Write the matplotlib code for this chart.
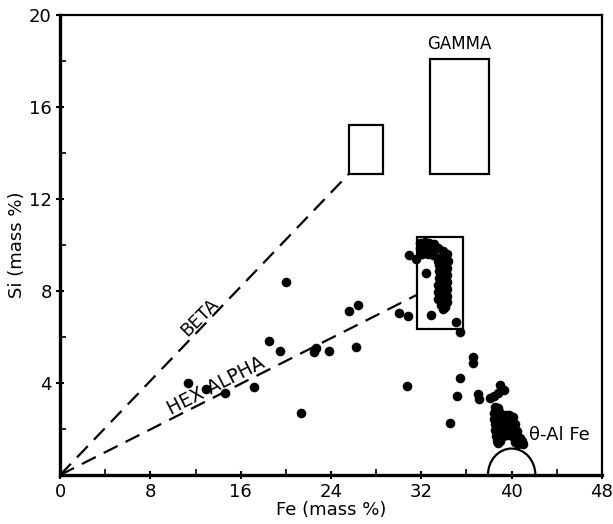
import numpy as np
import matplotlib
matplotlib.use('Agg')
import matplotlib.pyplot as plt
from matplotlib.patches import Rectangle, Arc
from matplotlib.ticker import MultipleLocator

plt.rcParams['font.family'] = ['DejaVu Sans']

# Отдельные точки (Fe, Si)
fe_pts = [11.3, 12.9, 14.6, 17.2, 18.5, 19.5, 20.0, 21.3, 22.5, 22.7, 23.8,
          25.6, 26.4, 26.2, 30.05, 30.8, 30.7, 30.9, 31.5, 32.4, 32.9, 35.1,
          35.4, 36.55, 36.55, 35.4, 35.2, 37.0, 37.1, 39.0, 39.3, 38.8, 38.4,
          38.1, 34.5]
si_pts = [3.99, 3.74, 3.55, 3.81, 5.84, 5.41, 8.40, 2.68, 5.33, 5.50, 5.41,
          7.14, 7.39, 5.55, 7.06, 6.91, 3.87, 9.58, 9.38, 8.77, 6.96, 6.67,
          6.23, 5.12, 4.86, 4.20, 3.43, 3.52, 3.29, 3.91, 3.70, 3.55, 3.43,
          3.33, 2.25]

# Скопление в области HEX ALPHA
fe_alpha = [31.9, 32.3, 32.7, 33.1, 31.9, 32.3, 32.7, 33.1, 32.1, 32.6, 33.0,
            33.5, 33.9, 34.3, 33.6, 34.0, 34.4, 33.5,
            33.6, 34.0, 34.3, 33.6, 34.0, 34.3, 33.6, 34.0, 34.3,
            33.5, 33.9, 34.3, 33.5, 33.9, 34.3, 33.5, 33.9, 34.3,
            33.7, 34.1, 33.9]
si_alpha = [10.1, 10.15, 10.1, 10.05, 9.85, 9.8, 9.8, 9.8, 9.6, 9.6, 9.55,
            9.85, 9.75, 9.6, 9.45, 9.4, 9.3, 9.3,
            9.15, 9.1, 9.0, 8.85, 8.8, 8.7, 8.55, 8.5, 8.4,
            8.25, 8.2, 8.1, 7.95, 7.9, 7.8, 7.65, 7.6, 7.5,
            7.4, 7.3, 7.2]

# Скопление около theta-AlFe
fe_theta = [38.5, 38.8, 38.4, 38.7, 39.0, 38.4, 38.7, 39.0, 38.5, 38.8,
            39.1, 38.5, 38.8, 39.1, 38.6, 38.9, 39.2, 38.7, 39.0, 38.8,
            39.5, 39.8, 40.1, 39.4, 39.7, 40.0, 40.3, 39.5, 39.8, 40.2,
            40.5, 39.6, 40.0, 40.4, 40.7, 40.3, 40.6, 40.9, 41.0]
si_theta = [2.95, 2.9, 2.7, 2.65, 2.7, 2.45, 2.4, 2.45, 2.2, 2.15,
            2.2, 1.95, 1.9, 1.95, 1.7, 1.65, 1.7, 1.5, 1.5, 1.4,
            2.6, 2.6, 2.5, 2.35, 2.3, 2.25, 2.2, 2.05, 2.0, 1.95,
            1.9, 1.75, 1.7, 1.65, 1.6, 1.45, 1.35, 1.5, 1.35]

# Границы фаз: (Fe мин, Si мин, Fe макс, Si макс)
box_beta = (25.6, 13.1, 28.6, 15.2)
box_gamma = (32.8, 13.1, 38.0, 18.1)
box_alpha = (31.6, 6.35, 35.7, 10.35)
alpha_end_si = 7.83
theta_fe, theta_w, theta_h = 40.0, 4.2, 2.3

fig = plt.figure(figsize=(6.13, 5.24), dpi=100)
ax = fig.add_axes([0.098, 0.0935, 0.884, 0.878])
ax.set_xlim(0, 48)
ax.set_ylim(0, 20)

for b in (box_beta, box_gamma, box_alpha):
    ax.add_patch(Rectangle((b[0], b[1]), b[2] - b[0], b[3] - b[1],
                           fill=False, ec='black', lw=1.6, zorder=2))
ax.add_patch(Arc((theta_fe, 0), theta_w, theta_h, theta1=0, theta2=180,
                 ec='black', lw=1.6))

ax.plot([0, box_beta[0]], [0, box_beta[1]], color='black', lw=1.6,
        dashes=(7, 4))
ax.plot([0, box_alpha[0]], [0, alpha_end_si], color='black', lw=1.6,
        dashes=(7, 4))

ax.scatter(fe_pts + fe_alpha + fe_theta, si_pts + si_alpha + si_theta,
           s=48, color='black', linewidths=0, zorder=3)


# подпись, лежащая на пунктирной линии
def line_label(text, x, x1, y1, rot, gap, size):
    y = y1 / x1 * x
    a = np.radians(rot)
    ax.annotate(text, (x, y), xytext=(-gap * np.sin(a), gap * np.cos(a)),
                textcoords='offset points', ha='center', va='baseline',
                rotation=rot, rotation_mode='anchor', fontsize=size)


line_label('BETA', 12.9, box_beta[0], box_beta[1], 45, 2.5, 13)
line_label('HEX ALPHA', 14.2, box_alpha[0], alpha_end_si, 27, 2.5, 13.5)

ax.text(35.4, 18.75, 'GAMMA', ha='center', va='center', fontsize=12)
ax.text(41.5, 1.74, 'θ-Al Fe', ha='left', va='center', fontsize=13)

ax.set_xticks([0, 8, 16, 24, 32, 40, 48])
ax.set_yticks([4, 8, 12, 16, 20])
ax.xaxis.set_minor_locator(MultipleLocator(4))
ax.yaxis.set_minor_locator(MultipleLocator(2))
ax.tick_params(which='major', direction='inout', length=6, width=1.5,
               labelsize=13, pad=3)
ax.tick_params(which='minor', direction='in', length=4, width=1.2)
ax.set_xlabel('Fe (mass %)', fontsize=13, labelpad=0)
ax.set_ylabel('Si (mass %)', fontsize=13, labelpad=2)

for side in ('left', 'bottom'):
    ax.spines[side].set_linewidth(2.4)
for side in ('top', 'right'):
    ax.spines[side].set_linewidth(1.6)

fig.savefig('out.png', dpi=100)
